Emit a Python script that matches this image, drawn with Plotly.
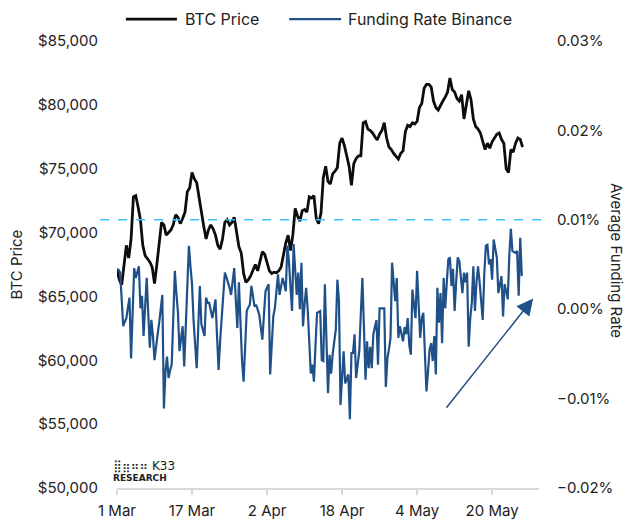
import pandas as pd
import plotly.graph_objects as go

# BTC price, one reading every 12 hours from 1 Mar
btc_price = [
    67100, 66300, 65900, 67500, 69000, 68000, 69500, 72800, 72900, 72000,
    71000, 69000, 68200, 67950, 67700, 67300, 66000, 67500, 69200, 70800,
    70600, 69800, 70000, 70200, 70600, 71400, 71200, 70700, 71100, 71600,
    73200, 73500, 74700, 74200, 73900, 72700, 71500, 70500, 69500, 70200,
    70600, 70300, 69800, 69000, 68700, 69500, 70800, 71000, 70600, 70800,
    71200, 70000, 68900, 68400, 66800, 66100, 66300, 66600, 67000, 67500,
    67000, 67700, 68500, 68300, 67700, 67000, 66800, 66900, 66850, 67000,
    67300, 68300, 69200, 69800, 68600, 69800, 71900, 71300, 70900, 71700,
    71800, 71600, 72800, 72700, 72900, 71100, 70700, 71500, 74300, 75200,
    74000, 73800, 74600, 74800, 75100, 77000, 77400, 76800, 76100, 75200,
    73700, 75400, 75800, 76000, 76000, 78600, 78700, 78100, 78000, 77800,
    77500, 77250, 77700, 78000, 78600, 77400, 76700, 76500, 76200, 76000,
    75750, 76200, 76400, 77900, 78400, 78300, 78600, 78500, 78700, 79800,
    80100, 81300, 81600, 81600, 81400, 80300, 79800, 79600, 80000, 80300,
    80600, 81000, 82100, 81200, 81000, 80500, 80300, 80800, 78900, 80200,
    81100, 80400, 78900, 78300, 78100, 77800, 77100, 76500, 77000, 76600,
    77100, 77400, 77700, 77800, 77300, 77000, 75000, 74700, 76500, 76300,
    77000, 77400, 77300, 76700,
]

# Binance funding rate in %, one reading every 8 hours from 1 Mar
funding_rate = [
    0.0045, 0.0044, 0.0041, 0.0010, -0.0019, -0.0014, -0.0010, 0.0002, 0.0013, -0.0055,
    -0.0005, 0.0046, 0.0035, 0.0042, 0.0048, 0.0001, 0.0015, -0.0030, 0.0000, 0.0035,
    -0.0005, -0.0043, -0.0012, -0.0030, -0.0057, -0.0040, -0.0028, -0.0015, 0.0000, 0.0016,
    -0.0111, -0.0070, -0.0053, -0.0077, -0.0068, -0.0062, -0.0010, 0.0043, 0.0018, -0.0004,
    -0.0047, -0.0032, -0.0019, -0.0064, -0.0020, 0.0026, 0.0071, 0.0048, 0.0028, -0.0013,
    -0.0040, -0.0066, -0.0020, 0.0026, -0.0017, -0.0024, -0.0030, 0.0013, 0.0007, 0.0007,
    0.0000, -0.0010, 0.0000, 0.0011, -0.0030, -0.0068, -0.0035, -0.0006, 0.0018, 0.0041,
    0.0036, 0.0031, 0.0024, 0.0016, 0.0030, 0.0046, 0.0010, -0.0021, 0.0030, -0.0015,
    -0.0058, -0.0081, -0.0040, -0.0002, 0.0002, 0.0005, 0.0026, 0.0014, 0.0003, 0.0005,
    0.0000, -0.0006, -0.0020, -0.0034, -0.0007, 0.0020, 0.0024, 0.0028, -0.0073, -0.0040,
    -0.0008, 0.0001, 0.0020, 0.0039, 0.0016, 0.0025, 0.0035, 0.0028, 0.0020, 0.0071,
    0.0054, 0.0025, -0.0002, 0.0073, 0.0045, 0.0016, 0.0041, 0.0000, 0.0052, -0.0019,
    0.0005, 0.0024, 0.0000, -0.0035, -0.0072, -0.0062, -0.0081, -0.0040, -0.0004, -0.0003,
    -0.0002, -0.0057, -0.0058, 0.0028, -0.0030, -0.0094, -0.0051, -0.0072, -0.0050, -0.0034,
    -0.0023, 0.0033, 0.0009, -0.0107, -0.0075, -0.0047, -0.0083, -0.0078, -0.0073, -0.0123,
    -0.0049, -0.0049, -0.0028, -0.0077, -0.0060, -0.0047, -0.0005, 0.0035, -0.0020, -0.0079,
    -0.0036, -0.0066, -0.0042, -0.0066, -0.0028, -0.0020, -0.0012, -0.0062, 0.0001, 0.0001,
    0.0001, 0.0001, -0.0087, -0.0055, -0.0045, -0.0032, 0.0052, 0.0030, 0.0009, 0.0035,
    -0.0032, -0.0019, -0.0030, -0.0036, -0.0020, -0.0028, -0.0010, -0.0040, -0.0051, 0.0022,
    0.0005, -0.0010, 0.0043, 0.0005, -0.0032, -0.0010, -0.0004, -0.0049, -0.0092, -0.0070,
    -0.0045, -0.0038, -0.0058, -0.0030, -0.0073, 0.0024, -0.0015, 0.0018, -0.0038, 0.0035,
    0.0001, 0.0030, 0.0056, 0.0058, 0.0026, 0.0045, -0.0002, 0.0030, 0.0058, 0.0054,
    0.0035, 0.0018, 0.0041, 0.0030, 0.0041, -0.0042, -0.0010, 0.0007, 0.0048, -0.0002,
    0.0030, 0.0048, 0.0030, 0.0010, -0.0012, 0.0040, 0.0071, 0.0072, 0.0050, 0.0056,
    0.0033, 0.0078, 0.0065, 0.0058, 0.0018, 0.0030, 0.0037, -0.0008, 0.0028, 0.0020,
    0.0011, 0.0060, 0.0090, 0.0065, 0.0064, 0.0063, 0.0065, 0.0015, 0.0080, 0.0037,
]

tick_dates = ["2024-03-01", "2024-03-17", "2024-04-02", "2024-04-18", "2024-05-04", "2024-05-20"]
tick_labels = ["1 Mar", "17 Mar", "2 Apr", "18 Apr", "4 May", "20 May"]
series_names = ["BTC Price", "Funding Rate Binance"]

btc_time = pd.date_range("2024-03-01", periods=len(btc_price), freq="12h")
fr_time = pd.date_range("2024-03-01", periods=len(funding_rate), freq="8h")

FONT = "Inter"
TXT = "#222222"
BLACK = "#0d0d0d"
BLUE = "#1f5188"

fig = go.Figure()
fig.add_trace(go.Scatter(
    x=btc_time, y=btc_price, name=series_names[0], mode="lines",
    line=dict(color=BLACK, width=2.8), yaxis="y"
))
fig.add_trace(go.Scatter(
    x=fr_time, y=funding_rate, name=series_names[1], mode="lines",
    line=dict(color=BLUE, width=2.2), yaxis="y2"
))

# 0.01% reference line
fig.add_shape(type="line", xref="paper", yref="y2", x0=-0.04, x1=1.015, y0=0.01, y1=0.01,
              line=dict(color="#3fbff5", width=1.5, dash="dash"))

# legend drawn by hand so the line samples are as long as in the original
for x0, x1, tx, col, name in [(0.021, 0.142, 0.157, BLACK, series_names[0]),
                              (0.408, 0.531, 0.543, BLUE, series_names[1])]:
    fig.add_shape(type="line", xref="paper", yref="paper", x0=x0, x1=x1, y0=1.049, y1=1.049,
                  line=dict(color=col, width=2.8 if col == BLACK else 2.2))
    fig.add_annotation(text=name, xref="paper", yref="paper", x=tx, y=1.049,
                       xanchor="left", yanchor="middle", showarrow=False,
                       font=dict(size=16, color=TXT))

fig.update_layout(
    width=626, height=526,
    margin=dict(l=117, r=87, t=41, b=38, autoexpand=False),
    paper_bgcolor="white", plot_bgcolor="white",
    font=dict(family=FONT, size=15, color=TXT),
    showlegend=False,
    xaxis=dict(
        range=["2024-03-01", "2024-05-30"],
        tickvals=tick_dates, ticktext=tick_labels,
        showgrid=False, zeroline=False, automargin=False,
        showline=True, linecolor="#d9d9d9", linewidth=1.5,
        ticks="outside", tickcolor="#d9d9d9", ticklen=5, tickwidth=1.5,
        ticklabelstandoff=3,
    ),
    yaxis=dict(
        range=[50000, 85000], dtick=5000, tickprefix="$", tickformat=",",
        showgrid=False, zeroline=False, showline=False, ticklabelstandoff=18,
        automargin=False,
    ),
    yaxis2=dict(
        range=[-0.02, 0.03], dtick=0.01, tickformat=".2f", ticksuffix="%",
        overlaying="y", side="right", automargin=False,
        showgrid=False, zeroline=False, showline=False, ticklabelstandoff=17,
    ),
)

fig.add_annotation(text="BTC Price", xref="paper", yref="paper", x=-0.237, y=0.5,
                   xanchor="center", yanchor="middle",
                   textangle=-90, showarrow=False, font=dict(size=15, color=TXT))
fig.add_annotation(text="Average Funding Rate", xref="paper", yref="paper", x=1.185, y=0.51,
                   xanchor="center", yanchor="middle",
                   textangle=90, showarrow=False, font=dict(size=15, color=TXT))

# K33 logo text
fig.add_annotation(text="⣿⣶⠶⠶ K33", xref="paper", yref="paper", x=-0.015, y=0.05,
                   xanchor="left", yanchor="middle", showarrow=False,
                   font=dict(size=12, color=TXT, family="DejaVu Sans"))
fig.add_annotation(text="<b>RESEARCH</b>", xref="paper", yref="paper", x=-0.015, y=0.022,
                   xanchor="left", yanchor="middle", showarrow=False,
                   font=dict(size=9, color=TXT, family="DejaVu Sans"))

# rising trend arrow
fig.add_annotation(text="", xref="x", yref="y2", axref="x", ayref="y2",
                   x="2024-05-28 18:00", y=0.0012, ax="2024-05-10", ay=-0.0112,
                   showarrow=True, arrowhead=2, arrowsize=2.2, arrowwidth=1.5,
                   arrowcolor=BLUE)

# drop the browser's default page margin so the figure fills the window
fig.write_html("out.html", config={"displayModeBar": False},
               post_script="document.body.style.margin='0';")
